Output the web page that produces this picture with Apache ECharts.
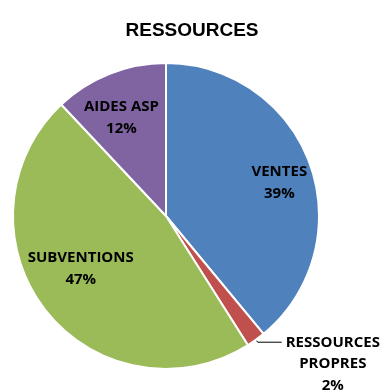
<!DOCTYPE html>
<html><head><meta charset="utf-8">
<script src="https://cdn.jsdelivr.net/npm/echarts@6/dist/echarts.min.js"></script>
<style>html,body{margin:0;padding:0;background:#fff}#c{width:384px;height:392px}</style>
</head><body><div id="c"></div>
<script>
const categories = ['VENTES', 'RESSOURCES PROPRES', 'SUBVENTIONS', 'AIDES ASP'];
const labelTexts = ['VENTES', 'RESSOURCES\nPROPRES', 'SUBVENTIONS', 'AIDES ASP'];
const values = [39, 2, 47, 12];
const colors = ['#4F81BD', '#C0504D', '#9BBB59', '#8064A2'];
const outsideLabel = [false, true, false, false];
const labelOffsets = [[7, 5], [0, 0], [4, -17], [-3, 7]];

const total = values.reduce((a, b) => a + b, 0);
const pct = v => Math.round(v / total * 100) + '%';
const font = '"Open Sans", Lato, sans-serif';
const center = [166, 216];
const R = 153;

const mainData = categories.map((name, i) => ({
  name, value: values[i],
  itemStyle: { color: colors[i] },
  label: outsideLabel[i] ? {
    show: true, position: 'outside',
    formatter: () => labelTexts[i].split('\n').concat([pct(values[i])]).map(s => '{c|' + s + '}').join('\n'),
    padding: [44, 0, 0, 0],
    distanceToLabelLine: 4,
    rich: { c: { align: 'center', fontFamily: font, fontWeight: 'bold', fontSize: 15, lineHeight: 21.5, color: '#000' } }
  } : { show: false },
  labelLine: outsideLabel[i] ? { show: true, length: 3, length2: 24, lineStyle: { color: '#000', width: 1 } } : { show: false }
}));

const overlayData = categories.map((name, i) => ({
  name, value: values[i],
  label: outsideLabel[i] ? { show: false } : {
    show: true, position: 'inside', offset: labelOffsets[i],
    formatter: () => labelTexts[i] + '\n' + pct(values[i])
  }
}));

const chart = echarts.init(document.getElementById('c'), null, { renderer: 'canvas' });
chart.setOption({
  animation: false,
  title: {
    text: 'RESSOURCES', left: 'center', top: 16,
    textStyle: { fontFamily: '"Liberation Sans", Arial, sans-serif', fontWeight: 'bold', fontSize: 19, color: '#000' }
  },
  series: [{
    type: 'pie', center: center, radius: [0, R], startAngle: 90, clockwise: true,
    avoidLabelOverlap: false,
    itemStyle: { borderColor: '#fff', borderWidth: 2 },
    data: mainData
  }, {
    type: 'pie', center: center, radius: [67, R], startAngle: 90, clockwise: true,
    silent: true, avoidLabelOverlap: false,
    itemStyle: { color: 'rgba(0,0,0,0)', borderWidth: 0 },
    emphasis: { disabled: true },
    label: { color: '#000', fontFamily: font, fontWeight: 'bold', fontSize: 15, lineHeight: 22, align: 'center' },
    labelLine: { show: false },
    data: overlayData
  }]
});
</script></body></html>
